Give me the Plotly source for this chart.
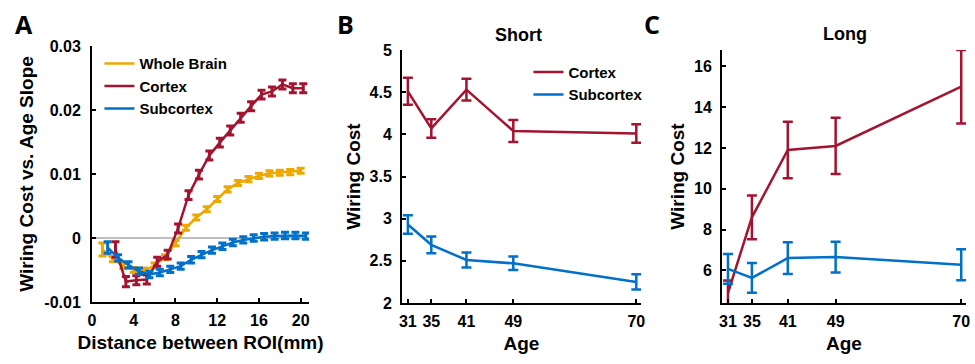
import plotly.graph_objects as go

# ---------------- Panel A data ----------------
dist_whole = [1, 2, 3, 4, 5, 6, 7, 8, 9, 10, 11, 12, 13, 14, 15, 16, 17, 18, 19, 20]
whole_brain = [-0.0018, -0.0033, -0.0044, -0.0050, -0.0051, -0.0043, -0.0030, -0.0008, 0.0016, 0.0032,
               0.0045, 0.0061, 0.0076, 0.0086, 0.0092, 0.0097, 0.0101, 0.0102, 0.0103, 0.0105]
whole_err = [0.0010, 0.0004, 0.0004, 0.0004, 0.0004, 0.0004, 0.0004, 0.0004, 0.0004, 0.0004,
             0.0004, 0.0004, 0.0004, 0.0004, 0.0004, 0.0004, 0.0004, 0.0004, 0.0004, 0.0004]

dist_cortex = [2.25, 3.25, 4.25, 5.25, 6.25, 7.25, 8.25, 9.25, 10.25, 11.25, 12.25, 13.25, 14.25,
               15.25, 16.25, 17.25, 18.25, 19.25, 20.25]
cortex_slope = [-0.0018, -0.0068, -0.0066, -0.0065, -0.0037, -0.0026, 0.0015, 0.0067, 0.0099, 0.0129,
                0.0149, 0.0168, 0.0188, 0.0206, 0.0224, 0.0229, 0.0240, 0.0234, 0.0234]
cortex_err = [0.0012, 0.0008, 0.0007, 0.0007, 0.0007, 0.0007, 0.0007, 0.0007, 0.0007, 0.0007,
              0.0007, 0.0007, 0.0007, 0.0007, 0.0007, 0.0007, 0.0007, 0.0007, 0.0007]

dist_sub = [1.5, 2.5, 3.5, 4.5, 5.5, 6.5, 7.5, 8.5, 9.5, 10.5, 11.5, 12.5, 13.5, 14.5, 15.5, 16.5,
            17.5, 18.5, 19.5, 20.5]
sub_slope = [-0.0015, -0.0031, -0.0042, -0.0052, -0.0057, -0.0054, -0.0049, -0.0044, -0.0034, -0.0026,
             -0.0019, -0.0013, -0.0007, -0.0003, 0.0000, 0.0002, 0.0003, 0.0004, 0.0004, 0.0003]
sub_err = [0.0009, 0.0005, 0.0005, 0.0005, 0.0005, 0.0005, 0.0005, 0.0005, 0.0005, 0.0005,
           0.0005, 0.0005, 0.0005, 0.0005, 0.0005, 0.0005, 0.0005, 0.0005, 0.0005, 0.0005]

# ---------------- Panels B, C data ----------------
ages = [31, 35, 41, 49, 70]
short_cortex = [4.51, 4.07, 4.53, 4.04, 4.01]
short_cortex_err = [0.16, 0.11, 0.13, 0.13, 0.11]
short_sub = [2.93, 2.69, 2.51, 2.47, 2.25]
short_sub_err = [0.11, 0.10, 0.09, 0.08, 0.09]

long_cortex = [4.9, 8.6, 11.9, 12.1, 15.0]
long_cortex_err = [0.6, 1.07, 1.38, 1.38, 1.8]
long_sub = [6.07, 5.63, 6.6, 6.65, 6.28]
long_sub_err = [0.73, 0.73, 0.78, 0.75, 0.76]

age_ticks = [31, 35, 41, 49, 70]
a_xticks = [0, 4, 8, 12, 16, 20]
a_yticks = [-0.01, 0, 0.01, 0.02, 0.03]
a_yticktext = ["-0.01", "0", "0.01", "0.02", "0.03"]
b_yticks = [2, 2.5, 3, 3.5, 4, 4.5, 5]
b_yticktext = ["2", "2.5", "3", "3.5", "4", "4.5", "5"]
c_yticks = [6, 8, 10, 12, 14, 16]

ORANGE = "#EDA800"
RED = "#A2142F"
BLUE = "#0070C8"
FONT = "Liberation Sans, Arial, sans-serif"

fig = go.Figure()


def eb(vals, w, th, color):
    return dict(type="data", array=vals, visible=True, color=color, width=w, thickness=th)


# Panel A
fig.add_trace(go.Scatter(x=dist_whole, y=whole_brain, mode="lines", name="Whole Brain",
                         line=dict(color=ORANGE, width=2.5), error_y=eb(whole_err, 4, 3, ORANGE),
                         xaxis="x", yaxis="y", legend="legend"))
fig.add_trace(go.Scatter(x=dist_cortex, y=cortex_slope, mode="lines", name="Cortex",
                         line=dict(color=RED, width=2.5), error_y=eb(cortex_err, 4, 3, RED),
                         xaxis="x", yaxis="y", legend="legend"))
fig.add_trace(go.Scatter(x=dist_sub, y=sub_slope, mode="lines", name="Subcortex",
                         line=dict(color=BLUE, width=2.5), error_y=eb(sub_err, 4, 3, BLUE),
                         xaxis="x", yaxis="y", legend="legend"))

# Panel B
fig.add_trace(go.Scatter(x=ages, y=short_cortex, mode="lines", name="Cortex",
                         line=dict(color=RED, width=2.5), error_y=eb(short_cortex_err, 5, 2.5, RED),
                         xaxis="x2", yaxis="y2", legend="legend2"))
fig.add_trace(go.Scatter(x=ages, y=short_sub, mode="lines", name="Subcortex",
                         line=dict(color=BLUE, width=2.5), error_y=eb(short_sub_err, 5, 2.5, BLUE),
                         xaxis="x2", yaxis="y2", legend="legend2"))

# Panel C
fig.add_trace(go.Scatter(x=ages, y=long_cortex, mode="lines", name="Cortex", showlegend=False,
                         line=dict(color=RED, width=2.5), error_y=eb(long_cortex_err, 5, 2.5, RED),
                         xaxis="x3", yaxis="y3"))
fig.add_trace(go.Scatter(x=ages, y=long_sub, mode="lines", name="Subcortex", showlegend=False,
                         line=dict(color=BLUE, width=2.5), error_y=eb(long_sub_err, 5, 2.5, BLUE),
                         xaxis="x3", yaxis="y3"))

H = 364.0
W = 975.0


def ydom(top_px, bot_px):
    return [1 - bot_px / H, 1 - top_px / H]


def xdom(l_px, r_px):
    return [l_px / W, r_px / W]


tickfont = dict(family=FONT, size=16, color="black", weight="bold")
titlefont = dict(family=FONT, size=19, color="black", weight="bold")

common = dict(showline=True, linecolor="black", linewidth=2, ticks="inside", ticklen=4,
              tickwidth=1.5, tickcolor="black", showgrid=False, zeroline=False,
              tickfont=tickfont, mirror=False, automargin=False)

fig.update_layout(
    width=975, height=364,
    margin=dict(l=0, r=0, t=0, b=0, autoexpand=False),
    paper_bgcolor="white", plot_bgcolor="white",
    showlegend=True,
    xaxis=dict(domain=xdom(92, 309), range=[0, 20.8], tickvals=a_xticks, anchor="y",
               ticklabelstandoff=3,
               title=dict(text="Distance between ROI(mm)", font=titlefont, standoff=7), **common),
    yaxis=dict(domain=ydom(46, 302), range=[-0.01, 0.03], tickvals=a_yticks, ticktext=a_yticktext,
               anchor="x", ticklabelstandoff=6,
               title=dict(text="Wiring Cost vs. Age Slope", font=titlefont, standoff=6),
               **common),
    xaxis2=dict(domain=xdom(402, 641), range=[30, 70.8], tickvals=age_ticks, anchor="y2",
                ticklabelstandoff=3,
                title=dict(text="Age", font=titlefont, standoff=7), **common),
    yaxis2=dict(domain=ydom(50, 303), range=[2, 5], tickvals=b_yticks, ticktext=b_yticktext,
                anchor="x2", ticklabelstandoff=5,
                title=dict(text="Wiring Cost", font=titlefont, standoff=4), **common),
    xaxis3=dict(domain=xdom(722, 966), range=[30, 70.8], tickvals=age_ticks, anchor="y3",
                ticklabelstandoff=3,
                title=dict(text="Age", font=titlefont, standoff=7), **common),
    yaxis3=dict(domain=ydom(50, 303), range=[4.4, 16.8], tickvals=c_yticks, anchor="x3",
                ticklabelstandoff=5,
                title=dict(text="Wiring Cost", font=titlefont, standoff=4), **common),
    legend=dict(x=0.102, y=0.87, xanchor="left", yanchor="top", bgcolor="rgba(0,0,0,0)",
                font=dict(family=FONT, size=15, color="black", weight="bold"),
                itemwidth=30, tracegroupgap=0),
    legend2=dict(x=0.542, y=0.847, xanchor="left", yanchor="top", bgcolor="rgba(0,0,0,0)",
                 font=dict(family=FONT, size=15, color="black", weight="bold"),
                 itemwidth=30, tracegroupgap=0),
)

# zero line in panel A
fig.add_shape(type="line", xref="x", yref="y", x0=0, x1=20.8, y0=0, y1=0,
              line=dict(color="#808080", width=1.2), layer="below")

# titles and panel letters
fig.add_annotation(x=518 / W, y=1 - 35 / H, xref="paper", yref="paper", text="Short", showarrow=False,
                   xanchor="center", yanchor="middle",
                   font=dict(family=FONT, size=18, color="black", weight="bold"))
fig.add_annotation(x=845 / W, y=1 - 34 / H, xref="paper", yref="paper", text="Long", showarrow=False,
                   xanchor="center", yanchor="middle",
                   font=dict(family=FONT, size=18, color="black", weight="bold"))
for letter, px in [("A", 24), ("B", 345), ("C", 652)]:
    fig.add_annotation(x=px / W, y=1 - 24 / H, xref="paper", yref="paper", text=letter,
                       showarrow=False, xanchor="center", yanchor="middle",
                       font=dict(family="Open Sans, sans-serif", size=25, color="black", weight="bold"))

fig.write_html("out.html", config={"displayModeBar": False},
               post_script="document.body.style.margin='0';document.body.style.padding='0';")
